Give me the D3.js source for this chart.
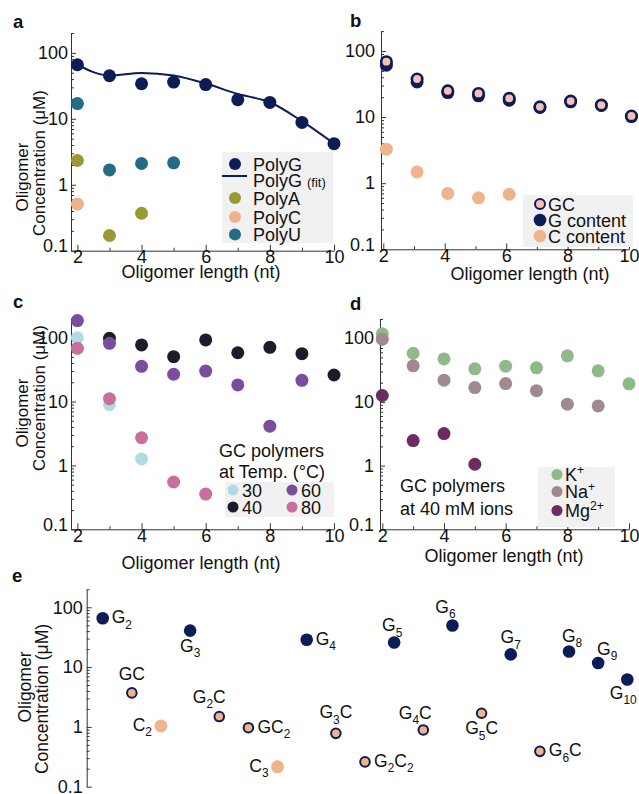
<!DOCTYPE html>
<html><head><meta charset="utf-8">
<script src="https://cdn.jsdelivr.net/npm/d3@7"></script>
<style>body{margin:0;background:#fff} svg{display:block}</style>
</head><body><svg id="chart" width="639" height="794"></svg>
<script>
// ---------- DATA ----------
const lengths = [2, 3, 4, 5, 6, 7, 8, 9, 10];
// panel a
const polyG = [66, 45, 34, 36, 33, 19.5, 17.7, 8.8, 4.2];
const polyGFit = [66, 45.3, 49.7, 45.3, 34.2, 23.8, 17.8, 9.2, 4.2];
const polyALen = [2, 3, 4];
const polyA = [2.33, 0.17, 0.37];
const polyCLen = [2];
const polyC = [0.51];
const polyULen = [2, 3, 4, 5];
const polyU = [17, 1.68, 2.1, 2.15];
// panel b
const bLen = [2.1, 3.1, 4.1, 5.1, 6.1, 7.1, 8.1, 9.1, 10.08];
const gcAll = [69, 37.7, 25, 22.8, 19.2, 14.3, 17.5, 15.2, 10.4];
const gContent = [61, 34, 23.5, 21, 18, 14, 17, 15, 10.2];
const cLen = [2.1, 3.1, 4.1, 5.1, 6.1];
const cContent = [3.27, 1.48, 0.70, 0.60, 0.68];
// panel c (temperature, °C)
const t30Len = [2, 3, 4];
const t30 = [100, 8.9, 1.26];
const t40Len = [3, 4, 5, 6, 7, 8, 9, 10];
const t40 = [97.6, 76.8, 50.4, 92, 58, 70.6, 56, 26];
const t60Len = [2, 3, 4, 5, 6, 7, 8, 9];
const t60 = [185, 81.5, 35.6, 26.7, 30, 18.2, 4.11, 21.5];
const t80Len = [2, 3, 4, 5, 6];
const t80 = [68, 11.1, 2.71, 0.55, 0.356];
// panel d (ions)
const kPlus = [117, 58, 47.3, 33, 36.3, 34.2, 52.8, 30.7, 19.2];
const naLen = [2, 3, 4, 5, 6, 7, 8, 9];
const naPlus = [96.5, 36.8, 21.9, 16.8, 19.4, 15, 9.2, 8.65];
const mgLen = [2, 3, 4, 5];
const mg2Plus = [12.6, 2.47, 3.18, 1.05];
// panel e
const eSpecies = ["G_2","GC","C_2","G_3","G_2C","GC_2","C_3","G_4","G_3C","G_2C_2","G_5","G_4C","G_6","G_5C","G_7","G_6C","G_8","G_9","G_10"];
const eValues  = [65.6, 3.7, 1.04, 40.8, 1.49, 0.97, 0.215, 28.6, 0.78, 0.26, 25.8, 0.89, 49.5, 1.69, 16.3, 0.39, 18.2, 11.7, 6.2];
const eKind    = ["G","GC","C","G","GC","GC","C","G","GC","GC","G","GC","G","GC","G","GC","G","G","G"];
// label placement for panel e (layout, not data)
const eLabelPlace = [["r",0,0],["a",0,-2],["l",0,0],["b",0,0],["a",-10,-3],["r",0,0],["l",0,0],["r",0,0],["a",0,-4],["r",0,0],["a",-2,0],["a",-8,0],["a",-7,-2],["b",0,0],["a",0,0],["r",0,0],["a",3,1],["a",9,3],["b",-4,-2]];
const yTickValues = [0.1, 1, 10, 100];
const xTickValues = [2, 4, 6, 8, 10];
const xMinorValues = [3, 5, 7, 9];

// ---------- STYLE ----------
const FONT = '"Liberation Sans", Arial, Helvetica, sans-serif';
const NAVY = "#0c1c58";
const AX = "#333";
const FS = 18;
const svg = d3.select("#chart");
svg.append("rect").attr("width", 639).attr("height", 794).attr("fill", "#fff");

function txt(g, x, y, s, size, opts = {}) {
  const t = g.append("text").attr("x", x).attr("y", y).attr("font-family", FONT)
    .attr("font-size", size).attr("fill", opts.fill || "#111")
    .attr("text-anchor", opts.anchor || "start");
  if (opts.weight) t.attr("font-weight", opts.weight);
  if (opts.rotate) t.attr("transform", `rotate(-90,${x},${y})`);
  return t.text(s);
}
// rich text with _sub and ^sup
function rich(g, x, y, s, size, anchor) {
  const t = g.append("text").attr("x", x).attr("y", y).attr("font-family", FONT)
    .attr("font-size", size).attr("fill", "#111").attr("text-anchor", anchor || "start");
  const re = /([_^])(\d+\+?|\+)|([^_^]+)/g;
  let m, shift = 0;
  while ((m = re.exec(s)) !== null) {
    if (m[3]) {
      t.append("tspan").attr("dy", -shift).text(m[3]); shift = 0;
    } else {
      const sub = m[1] === "_";
      const d = sub ? size * 0.3 : -size * 0.4;
      t.append("tspan").attr("dy", d - shift).attr("font-size", size * 0.68).text(m[2]);
      shift = d;
    }
  }
  return t;
}

function yAxis(g, y, x0, pad, raise01) {
  const top = y.domain()[1];
  const minors = [];
  yTickValues.forEach(d => { for (let k = 2; k <= 9; k++) { const v = d * k; if (v <= top * 1.0001) minors.push(v); } });
  const ga = g.append("g").attr("transform", `translate(${x0},0)`)
    .call(d3.axisLeft(y).tickValues(yTickValues).tickFormat(d => d < 1 ? "0.1" : String(Math.round(d)))
      .tickSize(-5).tickSizeOuter(0).tickPadding(pad));
  ga.select(".domain").attr("stroke", AX);
  ga.selectAll(".tick line").attr("stroke", AX);
  ga.selectAll("text").attr("font-size", FS).attr("fill", "#111").attr("font-family", FONT);
  if (raise01) ga.selectAll(".tick").filter(d => d < 1).select("text").attr("dy", "0.05em");
  const gm = g.append("g").attr("transform", `translate(${x0},0)`)
    .call(d3.axisLeft(y).tickValues(minors).tickFormat("").tickSize(-3).tickSizeOuter(0));
  gm.select(".domain").remove();
  gm.selectAll(".tick line").attr("stroke", AX);
}
function xAxis(g, x, y0) {
  const ga = g.append("g").attr("transform", `translate(0,${y0})`)
    .call(d3.axisBottom(x).tickValues(xTickValues).tickSize(-6).tickSizeOuter(0).tickPadding(0));
  ga.select(".domain").attr("stroke", AX);
  ga.selectAll(".tick line").attr("stroke", AX);
  ga.selectAll("text").attr("font-size", FS).attr("fill", "#111").attr("font-family", FONT);
  const gm = g.append("g").attr("transform", `translate(0,${y0})`)
    .call(d3.axisBottom(x).tickValues(xMinorValues).tickFormat("").tickSize(-3).tickSizeOuter(0));
  gm.select(".domain").remove();
  gm.selectAll(".tick line").attr("stroke", AX);
}
function dots(g, x, y, xs, ys, fill, r, stroke, sw) {
  g.append("g").selectAll("circle").data(ys).join("circle")
    .attr("cx", (d, i) => x(xs[i])).attr("cy", d => y(d)).attr("r", r)
    .attr("fill", fill).attr("stroke", stroke || "none").attr("stroke-width", sw || 0);
}
function yTitle(g, xo, yo, xc, yc, size) {
  txt(g, xo, yo, "Oligomer", size, { anchor: "middle", rotate: true });
  txt(g, xc, yc, "Concentration (μM)", size, { anchor: "middle", rotate: true });
}

const R = 6.5;
// ---------- PANEL A ----------
{
  const g = svg.append("g");
  const x = d3.scaleLinear().domain([1.8, 10]).range([71, 334]);
  const y = d3.scaleLog().domain([0.1, 200]).range([250.7, 33]);
  yAxis(g, y, 71, 3, true);
  xAxis(g, x, 250.7);
  g.append("rect").attr("x", 222).attr("y", 152).attr("width", 111).attr("height", 91).attr("fill", "#f1f1f1");
  g.append("path").datum(lengths).attr("fill", "none").attr("stroke", NAVY).attr("stroke-width", 2)
    .attr("d", d3.line().x(d => x(d)).y((d, i) => y(polyGFit[i])).curve(d3.curveMonotoneX));
  dots(g, x, y, lengths, polyG, NAVY, R);
  dots(g, x, y, polyALen, polyA, "#9a9a34", R);
  dots(g, x, y, polyCLen, polyC, "#f0b08e", R);
  dots(g, x, y, polyULen, polyU, "#236d84", R);
  const lx = 235, tx = 253;
  const items = [["PolyG", NAVY, 164], ["PolyA", "#9a9a34", 198], ["PolyC", "#f0b08e", 217], ["PolyU", "#236d84", 234.5]];
  items.forEach(([s, c, yy]) => { g.append("circle").attr("cx", lx).attr("cy", yy).attr("r", 6).attr("fill", c); txt(g, tx, yy + 6.5, s, FS); });
  g.append("line").attr("x1", 222).attr("x2", 247).attr("y1", 176).attr("y2", 176).attr("stroke", NAVY).attr("stroke-width", 2);
  const t = txt(g, tx, 186.5, "PolyG ", FS); t.append("tspan").attr("font-size", 13).text("(fit)");
  txt(g, 13, 28, "a", 18.5, { weight: "bold" });
  yTitle(g, 28, 177, 45, 163, 17);
  txt(g, 201, 278, "Oligomer length (nt)", FS, { anchor: "middle" });
}
// ---------- PANEL B ----------
{
  const g = svg.append("g");
  const x = d3.scaleLinear().domain([1.925, 10]).range([381, 629]);
  const y = d3.scaleLog().domain([0.1, 200]).range([249.3, 31.1]);
  yAxis(g, y, 381, 6, true);
  xAxis(g, x, 249.3);
  g.append("rect").attr("x", 523).attr("y", 195).attr("width", 110).attr("height", 52).attr("fill", "#f1f1f1");
  dots(g, x, y, bLen, gContent, NAVY, R);
  dots(g, x, y, bLen, gcAll, "#f6c1b2", 5.2, NAVY, 2.6);
  dots(g, x, y, cLen, cContent, "#f0b48c", R);
  const lx = 540, tx = 548;
  g.append("circle").attr("cx", lx).attr("cy", 204).attr("r", 5).attr("fill", "#f6c1b2").attr("stroke", NAVY).attr("stroke-width", 2);
  g.append("circle").attr("cx", lx).attr("cy", 220).attr("r", 6.3).attr("fill", NAVY);
  g.append("circle").attr("cx", lx).attr("cy", 236).attr("r", 6.3).attr("fill", "#f0b48c");
  txt(g, tx, 210.5, "GC", FS); txt(g, tx, 226.5, "G content", FS); txt(g, tx, 242.5, "C content", FS);
  txt(g, 350, 27, "b", 18.5, { weight: "bold" });
  txt(g, 530, 280, "Oligomer length (nt)", FS, { anchor: "middle" });
}
// ---------- PANEL C ----------
{
  const g = svg.append("g");
  const x = d3.scaleLinear().domain([1.8, 10]).range([71, 334]);
  const y = d3.scaleLog().domain([0.1, 200]).range([529.3, 318.4]);
  yAxis(g, y, 71, 3, true);
  xAxis(g, x, 529.3);
  g.append("rect").attr("x", 225).attr("y", 482).attr("width", 109).attr("height", 35).attr("fill", "#f1f1f1");
  dots(g, x, y, t30Len, t30, "#b0dbe3", R);
  dots(g, x, y, t40Len, t40, "#1c1d2b", R);
  dots(g, x, y, t60Len, t60, "#7a4c9e", R);
  dots(g, x, y, t80Len, t80, "#c96f9b", R);
  txt(g, 219, 456.5, "GC polymers", FS);
  txt(g, 219, 478, "at Temp. (°C)", FS);
  [["30", "#b0dbe3", 233, 490], ["40", "#1c1d2b", 233, 507], ["60", "#7a4c9e", 292, 490], ["80", "#c96f9b", 292, 507]].forEach(([s, c, xx, yy]) => {
    g.append("circle").attr("cx", xx).attr("cy", yy).attr("r", 5.5).attr("fill", c);
    txt(g, xx + 9, yy + 6.5, s, FS);
  });
  txt(g, 13, 308, "c", 18.5, { weight: "bold" });
  yTitle(g, 28, 413, 45, 398, 17);
  txt(g, 201, 569, "Oligomer length (nt)", FS, { anchor: "middle" });
}
// ---------- PANEL D ----------
{
  const g = svg.append("g");
  const x = d3.scaleLinear().domain([1.925, 10]).range([380, 629]);
  const y = d3.scaleLog().domain([0.1, 200]).range([529.3, 319]);
  yAxis(g, y, 380, 6, true);
  xAxis(g, x, 529.3);
  g.append("rect").attr("x", 538).attr("y", 467).attr("width", 77).attr("height", 60).attr("fill", "#f1f1f1");
  dots(g, x, y, lengths, kPlus, "#8fb98b", R);
  dots(g, x, y, naLen, naPlus, "#a08a8f", R);
  dots(g, x, y, mgLen, mg2Plus, "#6d2b61", R);
  [["K^+", "#8fb98b", 474.5], ["Na^+", "#a08a8f", 491.5], ["Mg^2+", "#6d2b61", 510.5]].forEach(([s, c, yy]) => {
    g.append("circle").attr("cx", 557).attr("cy", yy).attr("r", 5.5).attr("fill", c);
    rich(g, 565, yy + 6.5, s, FS);
  });
  txt(g, 400, 491.5, "GC polymers", FS);
  txt(g, 400, 514.5, "at 40 mM ions", FS);
  txt(g, 350, 310, "d", 18.5, { weight: "bold" });
  txt(g, 504, 562, "Oligomer length (nt)", FS, { anchor: "middle" });
}
// ---------- PANEL E ----------
{
  const g = svg.append("g");
  const x = d3.scalePoint().domain(eSpecies).range([102.7, 627.3]);
  const y = d3.scaleLog().domain([0.1, 200]).range([786.7, 589.3]);
  yAxis(g, y, 86.7, 4, false);
  eSpecies.forEach((s, i) => {
    const cx = x(s), cy = y(eValues[i]), k = eKind[i];
    if (k === "G") g.append("circle").attr("cx", cx).attr("cy", cy).attr("r", 6.3).attr("fill", NAVY);
    else if (k === "C") g.append("circle").attr("cx", cx).attr("cy", cy).attr("r", 6.5).attr("fill", "#f0b48c");
    else g.append("circle").attr("cx", cx).attr("cy", cy).attr("r", 4.8).attr("fill", "#f0b48c").attr("stroke", NAVY).attr("stroke-width", 2);
    const [p, dx, dy] = eLabelPlace[i];
    if (p === "r") rich(g, cx + 9 + dx, cy + 5 + dy, s, 17.5, "start");
    else if (p === "l") rich(g, cx - 9 + dx, cy + 5 + dy, s, 17.5, "end");
    else if (p === "a") rich(g, cx + dx, cy - 11 + dy, s, 17.5, "middle");
    else rich(g, cx + dx, cy + 21 + dy, s, 17.5, "middle");
  });
  txt(g, 12, 582, "e", 18.5, { weight: "bold" });
  yTitle(g, 31, 687, 48, 699, 17.5);
}
</script></body></html>
